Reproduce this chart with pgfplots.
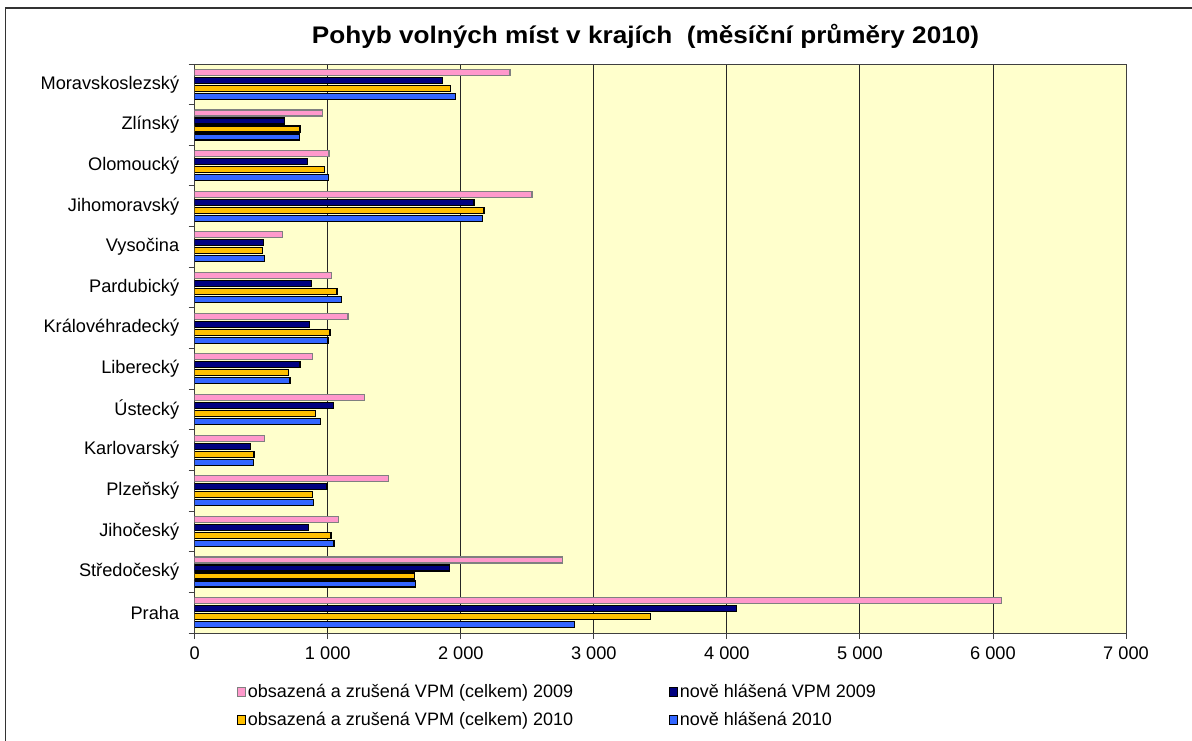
\documentclass[border=0pt]{standalone}
\usepackage{pgfplots}
\pgfplotsset{compat=1.18}
\usepackage{pgfplotstable}
\usepackage{fontspec}
\setmainfont{Liberation Sans}
\definecolor{cpink}{HTML}{FF99CC}
\definecolor{cnavy}{HTML}{000080}
\definecolor{corange}{HTML}{FFC000}
\definecolor{cblue}{HTML}{3366FF}
\definecolor{cbg}{HTML}{FFFFCC}
\pgfplotstableread{
idx pink navy orange blue
13 2370 1865 1920 1958
12 962 675 792 785
11 1010 848 977 1005
10 2535 2100 2175 2163
9 657 517 510 522
8 1027 877 1070 1102
7 1152 862 1017 1002
6 885 792 707 717
5 1277 1042 905 947
4 525 420 445 440
3 1455 995 887 892
2 1080 857 1025 1047
1 2763 1915 1655 1662
0 6065 4073 3426 2853
}\data
\begin{document}
\begin{tikzpicture}[x=1pt,y=1pt]
\useasboundingbox (0,0) rectangle (1192,740);
\draw[line width=1.3pt, black!80] (5.3,-20) -- (5.3,732) -- (1220,732);
\begin{axis}[
  at={(194.7pt,107pt)}, anchor=south west, scale only axis,
  width=931.3pt, height=569pt,
  xmin=0, xmax=7000, ymin=-0.5, ymax=13.5,
  bar width=6pt,
  axis background/.style={fill=cbg},
  axis line style={black!75, line width=0.9pt},
  xtick={0,1000,...,7000},
  xticklabels={0,1 000,2 000,3 000,4 000,5 000,6 000,7 000},
  xmajorgrids, major grid style={black!85, line width=0.9pt},
  ytick={-0.5,0.5,...,13.5}, yticklabels={},
  extra y ticks={0,1,...,13},
  extra y tick labels={Praha,Středočeský,Jihočeský,Plzeňský,Karlovarský,Ústecký,Liberecký,Královéhradecký,Pardubický,Vysočina,Jihomoravský,Olomoucký,Zlínský,Moravskoslezský},
  extra y tick style={major tick length=0pt, yticklabel style={xshift=-12pt}},
  tick align=outside, tick pos=left, major tick length=6pt,
  tick style={black!75, line width=0.9pt},
  ticklabel style={font=\fontsize{18.2}{21}\selectfont, text=black},
  xticklabel style={yshift=-4pt},
  legend style={at={(0.042,-0.083)}, anchor=north west, draw=none, fill=none,
    font=\fontsize{18}{21}\selectfont, row sep=9.5pt,
    /tikz/every odd column/.append style={column sep=0pt}},
  legend columns=2, legend cell align=left,
  legend image code/.code={\draw[#1, line width=0.9pt] (0pt,-4.5pt) rectangle (8pt,4.5pt);},
]
\addplot[xbar, fill=cpink, draw=black!50, line width=1.2pt, bar shift=12pt] table[x=pink,y=idx]{\data};
\addlegendentry{\makebox[419pt][l]{obsazená a zrušená VPM (celkem) 2009}}
\addplot[xbar, fill=cnavy, draw=black, line width=1.2pt, bar shift=4pt] table[x=navy,y=idx]{\data};
\addlegendentry{nově hlášená VPM 2009}
\addplot[xbar, fill=corange, draw=black, line width=1.2pt, bar shift=-4pt] table[x=orange,y=idx]{\data};
\addlegendentry{\makebox[419pt][l]{obsazená a zrušená VPM (celkem) 2010}}
\addplot[xbar, fill=cblue, draw=black, line width=1.2pt, bar shift=-12pt] table[x=blue,y=idx]{\data};
\addlegendentry{nově hlášená 2010}
\end{axis}
\node[font=\bfseries\fontsize{24}{28}\selectfont] at (645.5,704) {\scalebox{1.09}[1]{Pohyb volných míst v krajích~ (měsíční průměry 2010)}};
\end{tikzpicture}
\end{document}
